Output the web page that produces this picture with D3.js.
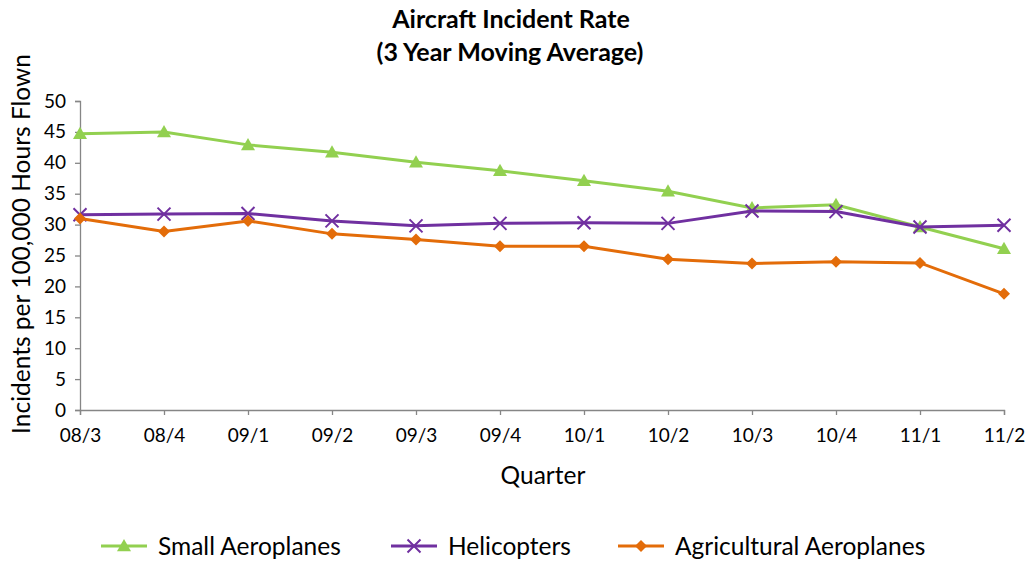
<!DOCTYPE html>
<html><head><meta charset="utf-8">
<script src="https://cdn.jsdelivr.net/npm/d3@7"></script>
<style>body{margin:0;background:#fff}svg{font-family:"Lato",sans-serif}</style>
</head><body><svg id="c" width="1032" height="563"></svg>
<script>
const quarters = ["08/3","08/4","09/1","09/2","09/3","09/4","10/1","10/2","10/3","10/4","11/1","11/2"];
const smallAeroplanes = [44.7,45.0,42.9,41.7,40.1,38.7,37.1,35.4,32.7,33.2,29.6,26.1];
const helicopters = [31.6,31.7,31.8,30.6,29.8,30.2,30.3,30.2,32.2,32.1,29.6,29.9];
const agricultural = [31.0,28.9,30.6,28.5,27.6,26.5,26.5,24.4,23.7,24.0,23.8,18.8];
const yTicks = [0,5,10,15,20,25,30,35,40,45,50];
const seriesNames = ["Small Aeroplanes","Helicopters","Agricultural Aeroplanes"];

const series = [
  {name:seriesNames[0], values:smallAeroplanes, color:"#92d050", marker:"tri"},
  {name:seriesNames[1], values:helicopters, color:"#7030a0", marker:"x"},
  {name:seriesNames[2], values:agricultural, color:"#e36c09", marker:"dia"}
];

const svg = d3.select("#c");
const x = d3.scalePoint().domain(quarters).range([80,1004]);
const y = d3.scaleLinear().domain([0,50]).range([410,101]);
const axisColor = "#868686";

const yAxis = svg.append("g").attr("transform","translate(80,0)")
  .call(d3.axisLeft(y).tickValues(yTicks).tickSize(5).tickPadding(9));
const xAxis = svg.append("g").attr("transform","translate(0,410)")
  .call(d3.axisBottom(x).tickSize(5).tickPadding(12));
[yAxis,xAxis].forEach(a=>{
  a.selectAll("path,line").attr("stroke",axisColor).attr("stroke-width",1.3);
  a.selectAll("text").attr("font-size",19).attr("fill","#000").attr("font-family","Lato");
});
xAxis.selectAll("text").attr("dy","0.8em");

function marker(g, type, color){
  if(type==="tri"){
    const s=7;
    g.append("path").attr("d",`M0,${-s}L${s},${s*0.75}L${-s},${s*0.75}Z`).attr("fill",color);
  } else if(type==="dia"){
    const s=6;
    g.append("path").attr("d",`M0,${-s}L${s},0L0,${s}L${-s},0Z`).attr("fill",color);
  } else {
    const s=6.5;
    g.append("path").attr("d",`M${-s},${-s}L${s},${s}M${-s},${s}L${s},${-s}`).attr("stroke",color).attr("stroke-width",2).attr("fill","none");
  }
}

const line = d3.line().x((d,i)=>x(quarters[i])).y(d=>y(d));
series.forEach(s=>{
  svg.append("path").datum(s.values).attr("d",line).attr("fill","none").attr("stroke",s.color).attr("stroke-width",3);
  s.values.forEach((v,i)=>{
    const g = svg.append("g").attr("transform",`translate(${x(quarters[i])},${y(v)})`);
    marker(g,s.marker,s.color);
  });
});

svg.append("text").attr("x",511).attr("y",28).attr("text-anchor","middle").attr("font-weight","bold").attr("font-size",25).text("Aircraft Incident Rate");
svg.append("text").attr("x",510).attr("y",61).attr("text-anchor","middle").attr("font-weight","bold").attr("font-size",25).text("(3 Year Moving Average)");
svg.append("text").attr("transform","translate(30,244) rotate(-90)").attr("text-anchor","middle").attr("font-size",24.5).text("Incidents per 100,000 Hours Flown");
svg.append("text").attr("x",543).attr("y",484).attr("text-anchor","middle").attr("font-size",24.5).text("Quarter");

const legendX = [101,391,618];
series.forEach((s,i)=>{
  const g = svg.append("g").attr("transform",`translate(${legendX[i]},546)`);
  g.append("line").attr("x1",0).attr("x2",46).attr("stroke",s.color).attr("stroke-width",3);
  const m = g.append("g").attr("transform","translate(23,0)");
  marker(m,s.marker,s.color);
  g.append("text").attr("x",57).attr("y",8.5).attr("font-size",24.5).text(s.name);
});
</script></body></html>
